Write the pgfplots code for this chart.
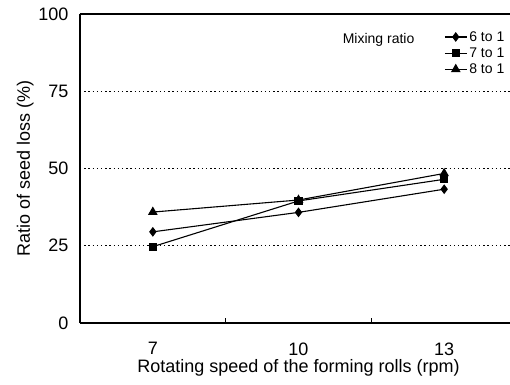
\documentclass[border=0pt]{standalone}
\usepackage{pgfplots}
\pgfplotsset{compat=1.18}
\usepackage{fontspec}
\setmainfont{Liberation Sans}
\begin{document}
\begin{tikzpicture}
\clip (-80bp,-62bp) rectangle (430bp,323bp);
\begin{axis}[
  at={(0,0)}, anchor=south west,
  scale only axis, width=437bp, height=309bp,
  xmin=0.5, xmax=3.5, ymin=0, ymax=100,
  axis x line*=bottom, axis y line*=left,
  axis line style={line width=1.1bp, -},
  /pgf/number format/assume math mode=true,
  xtick={1,2,3}, xticklabels={7,10,13},
  minor xtick={1.5,2.5},
  tick align=inside,
  major tick length=0pt, minor tick length=5bp,
  minor tick style={line width=1bp, black},
  ytick={0,25,50,75,100},
  ymajorgrids,
  grid style={black, line width=1.3bp, dash pattern=on 1.4bp off 2.8bp},
  ticklabel style={font=\fontsize{18bp}{20bp}\selectfont},
  xticklabel style={yshift=-16bp},
  yticklabel style={xshift=-8bp},
  xlabel={Rotating speed of the forming rolls (rpm)},
  ylabel={Ratio of seed loss (\%)},
  label style={font=\fontsize{18bp}{20bp}\selectfont},
  xlabel style={yshift=3bp},
  ylabel style={yshift=-2bp},
  legend style={at={(0.833,0.951)}, anchor=north west, draw=none, fill=none,
    font=\fontsize{14bp}{15bp}\selectfont, row sep=1bp, inner sep=0pt},
  legend cell align=left,
  legend image code/.code={\draw[mark repeat=2,mark phase=2] plot coordinates {(0bp,0bp) (11bp,0bp) (22bp,0bp)};},
  cycle list={{black, line width=1.1bp}},
]
\draw[black, line width=1.1bp] (axis cs:0.5,100) -- (axis cs:3.5,100);
\addplot[black, line width=1.1bp, mark=diamond*, mark size=4bp, mark options={fill=black, solid}] coordinates {(1,29.5) (2,35.8) (3,43.3)};
\addlegendentry{6 to 1}
\addplot[black, line width=1.1bp, mark=square*, mark size=3.5bp, mark options={fill=black, solid}] coordinates {(1,24.7) (2,39.5) (3,46.5)};
\addlegendentry{7 to 1}
\addplot[black, line width=1.1bp, mark=triangle*, mark size=4.5bp, mark options={fill=black, solid}] coordinates {(1,35.9) (2,39.8) (3,48.4)};
\addlegendentry{8 to 1}
\node[font=\fontsize{14bp}{15bp}\selectfont, anchor=center] at (axis cs:2.55,91.6) {Mixing ratio};
\end{axis}
\end{tikzpicture}
\end{document}
